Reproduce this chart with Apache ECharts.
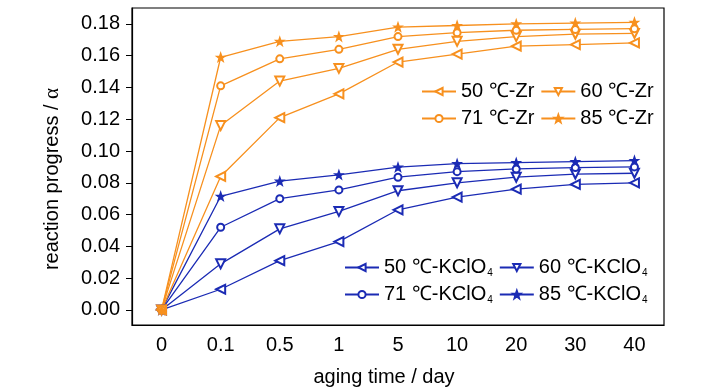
<!DOCTYPE html>
<html><head><meta charset="utf-8">
<script src="https://cdn.jsdelivr.net/npm/echarts@6/dist/echarts.min.js"></script>
<style>html,body{margin:0;padding:0;background:#fff}#c{width:728px;height:390px}</style>
</head><body><div id="c"></div>
<script>
var categories = ['0','0.1','0.5','1','5','10','20','30','40'];
var yTicks = [0,0.02,0.04,0.06,0.08,0.10,0.12,0.14,0.16,0.18];
var zr50 = [0, 0.084, 0.121, 0.136, 0.156, 0.161, 0.166, 0.167, 0.168];
var zr60 = [0, 0.116, 0.144, 0.152, 0.164, 0.169, 0.172, 0.1735, 0.174];
var zr71 = [0, 0.141, 0.158, 0.164, 0.172, 0.1745, 0.176, 0.1765, 0.177];
var zr85 = [0, 0.159, 0.169, 0.172, 0.178, 0.179, 0.180, 0.1805, 0.181];
var k50 = [0, 0.013, 0.031, 0.043, 0.063, 0.071, 0.076, 0.079, 0.080];
var k60 = [0, 0.029, 0.051, 0.062, 0.075, 0.080, 0.0835, 0.0855, 0.086];
var k71 = [0, 0.052, 0.070, 0.0755, 0.0835, 0.087, 0.0887, 0.0896, 0.090];
var k85 = [0, 0.0715, 0.081, 0.085, 0.0898, 0.092, 0.0927, 0.0933, 0.094];
var zrNames = ['50 ℃-Zr','60 ℃-Zr','71 ℃-Zr','85 ℃-Zr'];
var kNames = ['50 ℃-KClO4','60 ℃-KClO4','71 ℃-KClO4','85 ℃-KClO4'];

var ORANGE = '#F7901E', BLUE = '#1B2BB4';
var FONT = "'Liberation Sans', Arial, sans-serif";
var STAR = 'path://M0,-10L2.35,-3.24L9.51,-3.09L3.8,1.24L5.88,8.09L0,4L-5.88,8.09L-3.8,1.24L-9.51,-3.09L-2.35,-3.24Z';
var symbols = [
  {symbol:'emptyTriangle', rotate:90, size:9},
  {symbol:'emptyTriangle', rotate:180, size:9},
  {symbol:'emptyCircle', rotate:0, size:7},
  {symbol:STAR, rotate:0, size:8}
];
function mk(name, data, color, i){
  var s = symbols[i];
  return {name:name, type:'line', data:data, symbol:s.symbol, symbolRotate:s.rotate,
    symbolSize:s.size, showSymbol:true, animation:false,
    lineStyle:{color:color, width:1.3}, itemStyle:{color:color, borderColor:color, borderWidth:1.4}};
}
var series = [];
[k50,k60,k71,k85].forEach(function(d,i){ series.push(mk(kNames[i], d, BLUE, i)); });
[zr50,zr60,zr71,zr85].forEach(function(d,i){ series.push(mk(zrNames[i], d, ORANGE, i)); });

var chart = echarts.init(document.getElementById('c'), null, {renderer:'canvas'});
var legendText = {fontFamily:FONT, fontSize:20, color:'#000', lineHeight:21,
  rich:{sub:{fontFamily:FONT, fontSize:10, color:'#000', verticalAlign:'bottom', padding:[8,0,0,1]}}};
chart.setOption({
  backgroundColor:'#fff',
  animation:false,
  grid:{left:132, right:64, top:8, bottom:65, show:true, borderColor:'#000', borderWidth:1.2},
  xAxis:{type:'category', data:categories, boundaryGap:true,
    axisLine:{onZero:false, lineStyle:{color:'#000', width:1.2}},
    axisTick:{alignWithLabel:true, length:6, lineStyle:{color:'#000'}},
    axisLabel:{fontFamily:FONT, fontSize:20, color:'#000', margin:10}},
  yAxis:{type:'value', min:-0.0095, max:0.19,
    splitLine:{show:false},
    axisLine:{show:true, lineStyle:{color:'#000', width:1.2}},
    axisTick:{show:true, length:6, customValues:yTicks, lineStyle:{color:'#000'}},
    axisLabel:{fontFamily:FONT, fontSize:20, color:'#000', margin:12, customValues:yTicks,
      formatter:function(v){return v.toFixed(2);}}},
  legend:[
    {data:zrNames, left:421, top:81, width:250, orient:'horizontal', itemWidth:34, itemHeight:9, itemGap:6,
      padding:0, textStyle:legendText},
    {data:kNames, left:344, top:257, width:320, orient:'horizontal', itemWidth:34, itemHeight:9, itemGap:6,
      padding:0, textStyle:legendText,
      formatter:function(n){return n.replace('KClO4','KClO{sub|4}');}}
  ],
  graphic:[
    {type:'text', x:52, y:179, rotation:Math.PI/2, style:{text:'reaction progress / {a|α}',
      fontFamily:FONT, fontSize:20, fill:'#000', align:'center', verticalAlign:'middle',
      rich:{a:{fontFamily:"'Liberation Serif', serif", fontSize:21, fill:'#000'}}}},
    {type:'text', x:384, y:377, style:{text:'aging time / day', fontFamily:FONT, fontSize:20, fill:'#000',
      align:'center', verticalAlign:'middle'}}
  ],
  series:series
});
</script></body></html>
